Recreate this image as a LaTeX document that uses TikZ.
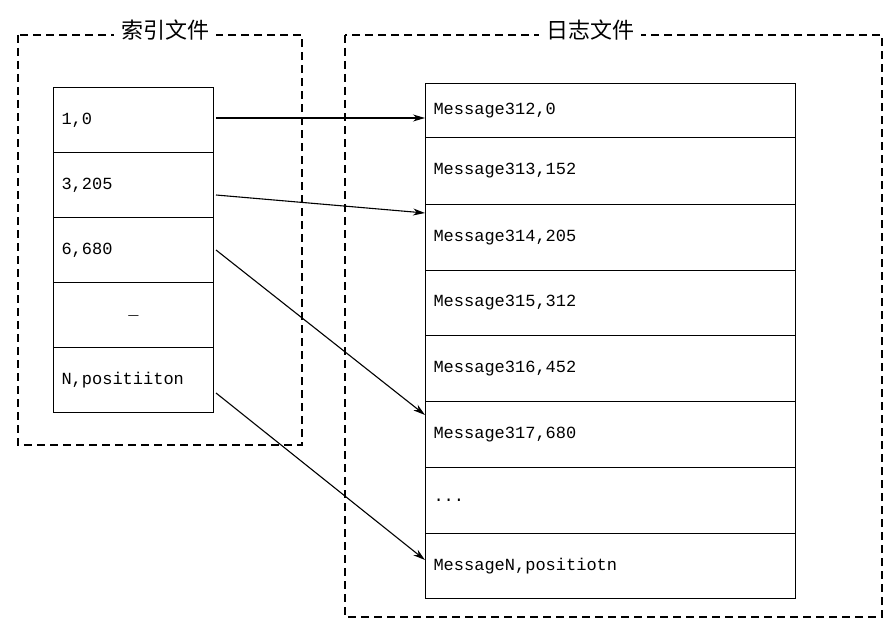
\documentclass[tikz,border=0pt]{standalone}
\usepackage{fontspec}
\setmonofont{Liberation Mono}
\newfontfamily\cjk{Noto Sans CJK SC}
\usetikzlibrary{calc,arrows.meta}
\begin{document}
\begin{tikzpicture}[x=1pt,y=-1pt,
  frame/.style={draw,line width=1.6pt,dash pattern=on 8pt off 5pt},
  ttl/.style={fill=white,inner xsep=7pt,font=\cjk\fontsize{22}{24}\selectfont},
  cell/.style={draw,line width=1pt,minimum height=#1,anchor=north west,inner xsep=8pt,font=\ttfamily\fontsize{17}{19}\selectfont},
  arr/.style={-{Stealth[length=12pt,width=7pt]},line width=1.1pt}]
\useasboundingbox[fill=white] (0,0) rectangle (884,634);
\draw[frame] (18,35) rectangle (302,445);
\draw[frame] (345,35) rectangle (882,617);
\node[ttl] (t1) at (165,30) {索引文件};
\node[ttl] (t2) at (590,30) {日志文件};
% left table
\node[cell=65pt,minimum width=160pt,text width=144pt,align=left] (l1) at (53,87) {1,0};
\node[cell=65pt,minimum width=160pt,text width=144pt,align=left] (l2) at (53,152) {3,205};
\node[cell=65pt,minimum width=160pt,text width=144pt,align=left] (l3) at (53,217) {6,680};
\node[cell=65pt,minimum width=160pt,text width=144pt,align=center] (l4) at (53,282) {\_};
\node[cell=65pt,minimum width=160pt,text width=144pt,align=left] (l5) at (53,347) {N,positiiton};
% right table
\node[cell=54pt,minimum width=370pt,text width=354pt,align=left] (r1) at (425,83) {Message312,0};
\node[cell=67pt,minimum width=370pt,text width=354pt,align=left] (r2) at (425,137) {Message313,152};
\node[cell=66pt,minimum width=370pt,text width=354pt,align=left] (r3) at (425,204) {Message314,205};
\node[cell=65pt,minimum width=370pt,text width=354pt,align=left] (r4) at (425,270) {Message315,312};
\node[cell=66pt,minimum width=370pt,text width=354pt,align=left] (r5) at (425,335) {Message316,452};
\node[cell=66pt,minimum width=370pt,text width=354pt,align=left] (r6) at (425,401) {Message317,680};
\node[cell=66pt,minimum width=370pt,text width=354pt,align=left] (r7) at (425,467) {...};
\node[cell=65pt,minimum width=370pt,text width=354pt,align=left] (r8) at (425,533) {MessageN,positiotn};
\draw[arr] ($(l1.north east)+(2,31)$) -- ($(r1.north west)+(0,35)$);
\draw[arr] ($(l2.north east)+(2,43)$) -- ($(r3.north west)+(0,9)$);
\draw[arr] ($(l3.north east)+(2,33)$) -- ($(r6.north west)+(0,14)$);
\draw[arr] ($(l5.north east)+(2,46)$) -- ($(r8.north west)+(0,27)$);
\end{tikzpicture}
\end{document}
